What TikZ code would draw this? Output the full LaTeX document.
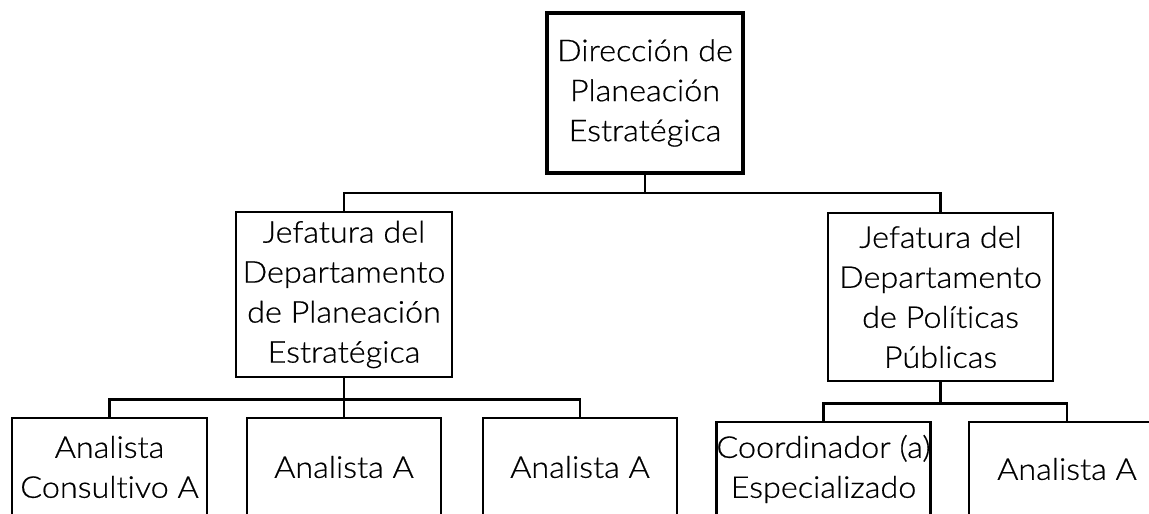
\documentclass[tikz,border=0pt]{standalone}
\usepackage{fontspec}
\setmainfont{Lato Light}[Ligatures=NoCommon,FakeStretch=1.08,FakeBold=0.6]
\usetikzlibrary{calc}
\begin{document}
\begin{tikzpicture}[x=1pt,y=-1pt,
  box/.style={draw=black,line width=2.6pt,fill=white,align=center,inner sep=0pt,
    font=\fontsize{30}{40}\selectfont},
  topbox/.style={box,line width=4pt},
  link/.style={draw=black,line width=2.6pt}]
\useasboundingbox (0,0) rectangle (1149,514);
\clip (0,0) rectangle (1149,514);
\node[topbox,minimum width=196pt,minimum height=160pt] (top) at (645,93) {Dirección de\\Planeación\\Estratégica};
\node[box,minimum width=216pt,minimum height=165pt] (ml) at (344,294.5) {Jefatura del\\Departamento\\de Planeación\\Estratégica};
\node[box,minimum width=225pt,minimum height=168pt] (mr) at (940.5,297) {Jefatura del\\Departamento\\de Políticas\\Públicas};
\node[box,minimum width=195pt,minimum height=98pt] (b1) at (109.5,467) {Analista\\Consultivo A};
\node[box,minimum width=194pt,minimum height=98pt] (b2) at (344,467) {Analista A};
\node[box,minimum width=194pt,minimum height=98pt] (b3) at (580,467) {Analista A};
\node[box,minimum width=211pt,minimum height=94pt] (b4) at (823.5,469) {Coordinador (a)\\Especializado};
\node[box,minimum width=196pt,minimum height=94pt] (b5) at (1067,469) {Analista A};
\coordinate (j0) at ($(top.south)+(0,18)$);
\coordinate (j1) at ($(ml.south)+(0,21)$);
\coordinate (j2) at ($(mr.south)+(0,21)$);
\draw[link] (top.south) -- (j0);
\draw[link] (ml.north) |- (j0) -| (mr.north);
\draw[link] (ml.south) -- (j1);
\draw[link] (b1.north) |- (j1) -| (b3.north);
\draw[link] (j1) -- (b2.north);
\draw[link] (mr.south) -- (j2);
\draw[link] (b4.north) |- (j2) -| (b5.north);
\end{tikzpicture}
\end{document}
